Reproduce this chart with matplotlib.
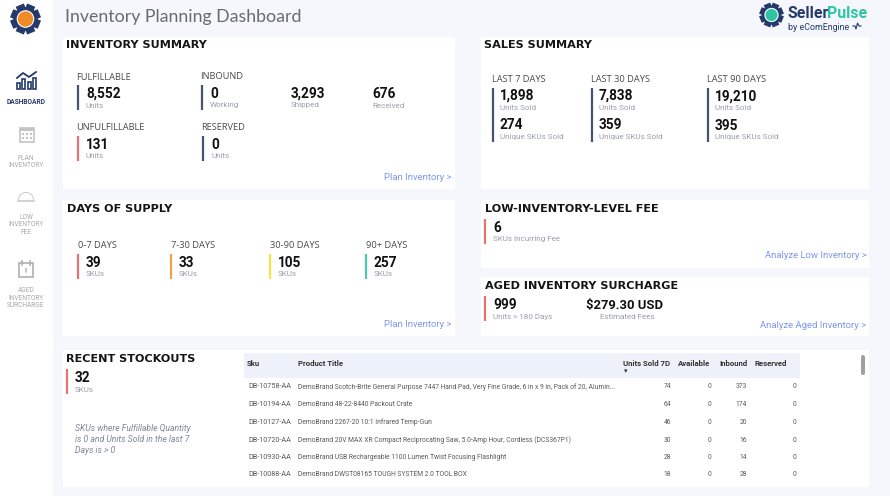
#!/usr/bin/env python

import numpy as np
import matplotlib
matplotlib.use('Agg')
import matplotlib.pyplot as plt
from matplotlib.patches import Rectangle, Circle, FancyBboxPatch, Wedge

navy = '#44546f'
red = '#e57373'
grey = '#9a9fa8'
label_c = '#4a4a4a'
link = '#7d97ee'

inv_labels = ['FULFILLABLE', 'UNFULFILLABLE', 'INBOUND', 'RESERVED']
inv_values = ['8,552', '131', '0', '0']
inv_units = ['Units', 'Units', 'Working', 'Units']
inbound_values = ['3,293', '676']
inbound_units = ['Shipped', 'Received']

sales_labels = ['LAST 7 DAYS', 'LAST 30 DAYS', 'LAST 90 DAYS']
sales_units = ['1,898', '7,838', '19,210']
sales_skus = ['274', '359', '395']

supply_labels = ['0-7 DAYS', '7-30 DAYS', '30-90 DAYS', '90+ DAYS']
supply_values = ['39', '33', '105', '257']
supply_colors = ['#e57373', '#f0a050', '#f5e642', '#4fc9ae']

nav_labels = ['DASHBOARD', 'PLAN\nINVENTORY', 'LOW\nINVENTORY\nFEE', 'AGED\nINVENTORY\nSURCHARGE']

columns = ['Sku', 'Product Title', 'Units Sold 7D', 'Available', 'Inbound', 'Reserved']
skus = ['DB-10758-AA', 'DB-10194-AA', 'DB-10127-AA', 'DB-10720-AA', 'DB-10930-AA', 'DB-10088-AA']
titles = ['DemoBrand Scotch-Brite General Purpose 7447 Hand Pad, Very Fine Grade, 6 in x 9 in, Pack of 20, Alumin...',
          'DemoBrand 48-22-8440 Packout Crate',
          'DemoBrand 2267-20 10:1 Infrared Temp-Gun',
          'DemoBrand 20V MAX XR Compact Reciprocating Saw, 5.0-Amp Hour, Cordless (DCS367P1)',
          'DemoBrand USB Rechargeable 1100 Lumen Twist Focusing Flashlight',
          'DemoBrand DWST08165 TOUGH SYSTEM 2.0 TOOL BOX']
units_7d = [74, 64, 46, 30, 28, 18]
available = [0, 0, 0, 0, 0, 0]
inbound = [373, 174, 20, 16, 14, 28]
reserved = [0, 0, 0, 0, 0, 0]

plt.rcParams['font.family'] = ['Roboto', 'DejaVu Sans']

fig = plt.figure(figsize=(8.9, 4.96), dpi=100, facecolor='#f6f7fc')
ax = fig.add_axes([0, 0, 1, 1])
ax.set_xlim(0, 890)
ax.set_ylim(496, 0)
ax.axis('off')


def panel(x0, y0, x1, y1, color='white'):
    ax.add_patch(Rectangle((x0, y0), x1 - x0, y1 - y0, fc=color, ec='none'))


def heading(x, y, s):
    ax.text(x, y, s, fontsize=8.15, fontweight='bold', family='DejaVu Sans',
            color='#151515', va='center')


def label(x, y, s):
    ax.text(x, y + 1, s, fontsize=6.7, color=label_c, va='center', family='Open Sans')


def kpi(x, y, value, unit, color=None, tx=8):
    if color:
        ax.plot([x, x], [y - 9, y + 16], color=color, lw=1.6, solid_capstyle='butt')
    ax.text(x + tx, y, value, fontsize=9.8, fontweight='bold', color='#111111', va='center')
    ax.text(x + tx, y + 11.5, unit, fontsize=5.8, color=grey, va='center')


def gear(x, y, r, inner):
    # body plus eight short teeth
    for a in np.arange(8) * np.pi / 4 + np.pi / 8:
        ax.plot([x, x + r * np.cos(a)], [y, y + r * np.sin(a)], color='#25396a',
                lw=r * 0.42, solid_capstyle='butt')
    ax.add_patch(Circle((x, y), r * 0.8, fc='#25396a', ec='none', zorder=3))
    ax.add_patch(Circle((x, y), r * 0.55, fc=inner, ec='white', lw=0.8, zorder=4))


# sidebar
panel(0, 0, 53, 496)
gear(25.5, 19, 15, '#f08a24')
nav_y = [102, 162, 225, 298]
nav_c = ['#25396a', '#a8a8a8', '#a8a8a8', '#a8a8a8']
for i in range(4):
    ax.text(26, nav_y[i], nav_labels[i], fontsize=4.8, color=nav_c[i], ha='center', va='center',
            fontweight='bold' if i == 0 else 'normal', linespacing=1.15)
# nav icons
for x, h in zip([18, 23, 29, 34], [6, 10, 7, 11]):
    ax.add_patch(Rectangle((x - 1.5, 89 - h), 3, h, fc='white', ec='#25396a', lw=1.2))
ax.plot([17, 23, 29, 36], [78, 73, 77, 72], color='#25396a', lw=1.3)
ax.add_patch(Rectangle((20, 128), 14, 14, fc='white', ec='#c4c4c4', lw=1.2))
ax.add_patch(Rectangle((20, 128), 14, 3, fc='#c4c4c4', ec='none'))
for dx_ in [23, 27, 31]:
    for dy_ in [134, 138]:
        ax.add_patch(Rectangle((dx_ - 1, dy_ - 1), 2, 2, fc='#c4c4c4', ec='none'))
ax.add_patch(Wedge((26, 200), 8, 180, 360, width=0.9, fc='#c4c4c4', ec='none'))
ax.plot([18, 34], [200.5, 200.5], color='#c4c4c4', lw=1.1)
ax.add_patch(Rectangle((19, 263), 14, 14, fc='white', ec='#b0b0b0', lw=1.2))
ax.plot([22, 22], [261, 265], color='#b0b0b0', lw=1.2)
ax.plot([30, 30], [261, 265], color='#b0b0b0', lw=1.2)
ax.text(26, 271, '!', fontsize=5, color='#909090', ha='center', va='center', fontweight='bold')

# title and logo
ax.text(65, 17, 'Inventory Planning Dashboard', fontsize=12.8, color='#666c74', va='center', family='Lato')
gear(771.5, 15, 12, '#2ec4a6')
ax.text(787, 13.5, 'Seller', fontsize=11.4, fontweight='bold', color='#25396a', va='center')
ax.text(827.5, 13.5, 'Pulse', fontsize=11.4, fontweight='bold', color='#2ec4a6', va='center')
ax.text(788, 27.5, 'by eComEngine', fontsize=6.4, color='#25396a', va='center')
ax.plot([853, 855, 856, 857.5, 859, 861], [26, 26, 29, 23, 26, 26], color='#25396a', lw=0.8)

# panels
panel(63, 37, 455, 189)
panel(481, 37, 869, 189)
panel(63, 200, 455, 336)
panel(481, 200, 869, 268)
panel(481, 277, 869, 336)
panel(63, 350, 869, 487)

# inventory summary
heading(66, 45, 'INVENTORY SUMMARY')
lx = [77, 77, 201, 202]
ly = [76, 127, 75.5, 127]
ky = [94, 145, 94, 145]
inv_colors = [navy, red, navy, navy]
for i in range(4):
    label(lx[i] - 0.5, ly[i], inv_labels[i])
    kpi(lx[i] + 1, ky[i], inv_values[i], inv_units[i], inv_colors[i])
kpi(283, 94, inbound_values[0], inbound_units[0])
kpi(364, 94, inbound_values[1], inbound_units[1])
ax.text(452, 177.5, 'Plan Inventory >', fontsize=6.8, color=link, ha='right', va='center')

# sales summary
heading(484, 45, 'SALES SUMMARY')
sx = [492, 591, 707]
sy = [78, 78, 78.5]
for i in range(3):
    label(sx[i], sy[i], sales_labels[i])
    ax.plot([sx[i] + 0.5] * 2, [87.5, 141.5], color=navy, lw=1.6, solid_capstyle='butt')
    kpi(sx[i], 96 + (i == 2), sales_units[i], 'Units Sold')
    kpi(sx[i], 125 + (i == 2), sales_skus[i], 'Unique SKUs Sold')

# days of supply
heading(67, 209, 'DAYS OF SUPPLY')
dx = [78, 171, 270, 366]
for i in range(4):
    label(dx[i], 244, supply_labels[i])
    kpi(dx[i], 263, supply_values[i], 'SKUs', supply_colors[i])
ax.text(452, 324.5, 'Plan Inventory >', fontsize=6.8, color=link, ha='right', va='center')

# low inventory fee
heading(485, 209, 'LOW-INVENTORY-LEVEL FEE')
kpi(485, 228, '6', 'SKUs Incurring Fee', red)
ax.text(867, 255.5, 'Analyze Low Inventory >', fontsize=6.8, color=link, ha='right', va='center')

# aged surcharge
heading(485, 286, 'AGED INVENTORY SURCHARGE')
kpi(485, 305, '999', 'Units > 180 Days', red)
ax.text(586, 305, '$279.30 USD', fontsize=9.4, fontweight='bold', color='#111111', va='center')
ax.text(627, 317, 'Estimated Fees', fontsize=5.8, color=grey, ha='center', va='center')
ax.text(866, 325.5, 'Analyze Aged Inventory >', fontsize=6.8, color=link, ha='right', va='center')

# recent stockouts
heading(66, 359, 'RECENT STOCKOUTS')
kpi(67, 378, '32', 'SKUs', red)
ax.text(75, 439.5, 'SKUs where Fulfillable Quantity\nis 0 and Units Sold in the last 7\nDays is > 0',
        fontsize=6.2, color='#7d8796', style='italic', va='center', linespacing=1.25)

# table
panel(244, 353, 800, 378, '#edf1f9')
col_x = [247, 298, 623, 710, 747, 787]
col_ha = ['left', 'left', 'left', 'right', 'right', 'right']
for x, name, ha in zip(col_x, columns, col_ha):
    ax.text(x, 364, name, fontsize=5.6, fontweight='bold', color='#333333', ha=ha, va='center')
ax.text(625.5, 371, '▾', fontsize=5, color='#333333', ha='center', va='center', family='DejaVu Sans')
row_y = [387, 405, 422.5, 440, 457.5, 475]
for i in range(6):
    y = row_y[i]
    ax.text(248, y, skus[i], fontsize=5.2, color='#5a5a5a', va='center')
    ax.text(298, y, titles[i], fontsize=4.9, color='#5a5a5a', va='center')
    ax.text(671, y, str(units_7d[i]), fontsize=4.9, color='#5a5a5a', ha='right', va='center')
    ax.text(711, y, str(available[i]), fontsize=4.9, color='#5a5a5a', ha='right', va='center')
    ax.text(747, y, str(inbound[i]), fontsize=4.9, color='#5a5a5a', ha='right', va='center')
    ax.text(796, y, str(reserved[i]), fontsize=4.9, color='#5a5a5a', ha='right', va='center')
ax.add_patch(FancyBboxPatch((861, 355), 4, 20, boxstyle='round,pad=0,rounding_size=2', fc='#a0a0a0', ec='none'))

fig.savefig('out.png', dpi=100)
